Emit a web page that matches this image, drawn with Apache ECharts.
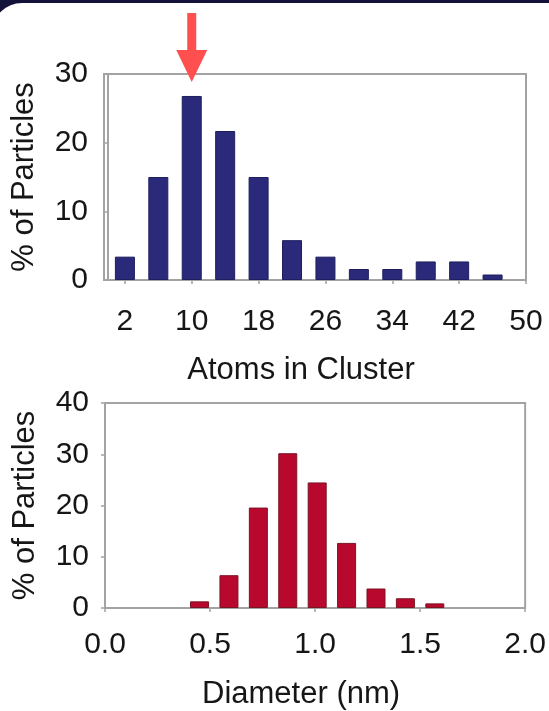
<!DOCTYPE html>
<html>
<head>
<meta charset="utf-8">
<script src="https://cdn.jsdelivr.net/npm/echarts@6/dist/echarts.min.js"></script>
<style>
html,body{margin:0;padding:0;background:#12123a;}
#chart{width:549px;height:711px;}
</style>
</head>
<body>
<div id="chart"></div>
<script>
// Top chart: atoms in cluster
var atomsX = [2, 6, 10, 14, 18, 22, 26, 30, 34, 38, 42, 46];
var atomsPct = [3.4, 15, 26.8, 21.7, 15, 5.8, 3.4, 1.6, 1.6, 2.7, 2.7, 0.8];
var atomsTicks = [2, 10, 18, 26, 34, 42, 50];
var arrowAt = 10;

// Bottom chart: diameter
var diamX = [0.45, 0.59, 0.73, 0.87, 1.01, 1.15, 1.29, 1.43, 1.57];
var diamPct = [1.3, 6.4, 19.6, 30.2, 24.5, 12.7, 3.8, 1.9, 0.9];

var topLabel = 'Atoms in Cluster';
var bottomLabel = 'Diameter (nm)';
var yLabel = '% of Particles';

var FONT = '"Liberation Sans", Arial, sans-serif';
var TXT = '#161616';
var AX = '#a3a3a3';

function pairs(xs, ys) { return xs.map(function (x, i) { return [x, ys[i]]; }); }

var chart = echarts.init(document.getElementById('chart'), null, {renderer: 'canvas'});

function yAxisCfg(gi, max) {
  return {
    type: 'value', gridIndex: gi, min: 0, max: max, interval: 10,
    name: yLabel, nameLocation: 'middle', nameGap: 64,
    nameTextStyle: {fontFamily: FONT, fontSize: 31, color: TXT},
    axisLine: {show: true, lineStyle: {color: AX, width: 2}},
    axisTick: {show: true, length: 4, lineStyle: {color: AX, width: 1.5}},
    axisLabel: {fontFamily: FONT, fontSize: 30, color: TXT, margin: 16},
    splitLine: {show: false}
  };
}

var option = {
  backgroundColor: '#12123a',
  animation: false,
  graphic: [{
    type: 'rect', silent: true, z: -10,
    shape: {x: -8, y: 3, width: 600, height: 760, r: 30},
    style: {fill: '#ffffff'}
  }],
  grid: [
    {left: 104, right: 23, top: 74, height: 206, show: true, borderColor: AX, borderWidth: 2, backgroundColor: 'transparent'},
    {left: 105, right: 23, top: 403, height: 208, show: true, borderColor: AX, borderWidth: 2, backgroundColor: 'transparent'}
  ],
  xAxis: [
    {
      type: 'value', gridIndex: 0, min: -0.5, max: 50,
      name: topLabel, nameLocation: 'middle', nameGap: 75,
      nameTextStyle: {fontFamily: FONT, fontSize: 31, color: TXT, padding: [0, 28, 0, 0]},
      axisLine: {show: true, onZero: false, lineStyle: {color: AX, width: 2}},
      axisTick: {show: true, length: 4, customValues: atomsTicks, lineStyle: {color: AX, width: 1.5}},
      axisLabel: {fontFamily: FONT, fontSize: 30, color: TXT, margin: 27, customValues: atomsTicks, showMinLabel: true, showMaxLabel: true},
      splitLine: {show: false}
    },
    {
      type: 'value', gridIndex: 1, min: 0, max: 2, interval: 0.5,
      name: bottomLabel, nameLocation: 'middle', nameGap: 71,
      nameTextStyle: {fontFamily: FONT, fontSize: 31, color: TXT, padding: [0, 28, 0, 0]},
      axisLine: {show: true, onZero: false, lineStyle: {color: AX, width: 2}},
      axisTick: {show: true, length: 4, lineStyle: {color: AX, width: 1.5}},
      axisLabel: {fontFamily: FONT, fontSize: 30, color: TXT, margin: 22,
        formatter: function (v) { return v.toFixed(1); }},
      splitLine: {show: false}
    }
  ],
  yAxis: [yAxisCfg(0, 30), yAxisCfg(1, 40)],
  series: [
    {
      type: 'bar', xAxisIndex: 0, yAxisIndex: 0, barWidth: 20,
      data: pairs(atomsX, atomsPct),
      itemStyle: {color: '#2b2a7a', borderColor: '#1f1e5e', borderWidth: 1},
      markPoint: {
        silent: true,
        symbol: 'path://M11,0 L20,0 L20,37 L31,37 L15.5,69 L0,37 L11,37 Z',
        symbolSize: [31, 69],
        symbolKeepAspect: false,
        label: {show: false},
        itemStyle: {color: '#ff4f4f'},
        data: [{coord: [arrowAt, 30], symbolOffset: [0, -26.5]}]
      }
    },
    {
      type: 'bar', xAxisIndex: 1, yAxisIndex: 1, barWidth: 19,
      data: pairs(diamX, diamPct),
      itemStyle: {color: '#b8082e', borderColor: '#7c1424', borderWidth: 1}
    }
  ]
};
chart.setOption(option);
</script>
</body>
</html>
